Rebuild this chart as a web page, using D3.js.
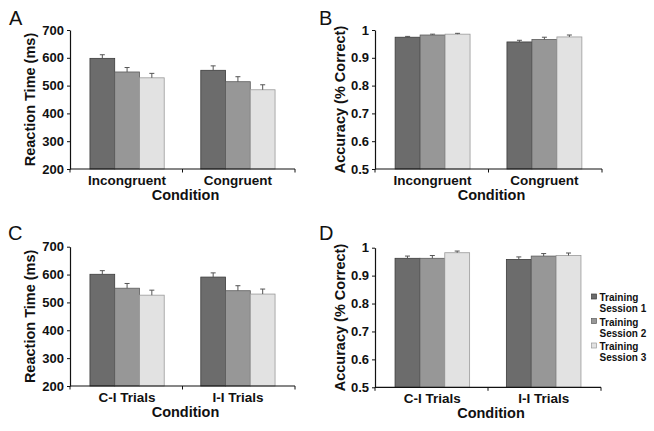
<!DOCTYPE html>
<html>
<head>
<meta charset="utf-8">
<script src="https://cdn.jsdelivr.net/npm/d3@7"></script>
<style>
  html, body { margin: 0; padding: 0; background: #fff; }
  svg { display: block; font-family: "Liberation Sans", Arial, sans-serif; }
</style>
</head>
<body>
<svg id="chart" width="654" height="431"></svg>
<script>
// ---------- data ----------
const sessions = ["Training Session 1", "Training Session 2", "Training Session 3"];
const categoriesAB = ["Incongruent", "Congruent"];
const categoriesCD = ["C-I Trials", "I-I Trials"];

// Panel A: reaction time (ms) [category][session]
const rtA = [[598, 549, 528], [555, 514, 485]];
const rtAErr = [[13, 16, 16], [16, 18, 18]];
// Panel B: accuracy
const accB = [[0.974, 0.982, 0.985], [0.957, 0.966, 0.975]];
const accBErr = [[0.003, 0.003, 0.003], [0.006, 0.008, 0.007]];
// Panel C: reaction time (ms)
const rtC = [[601, 551, 526], [591, 542, 530]];
const rtCErr = [[13, 17, 18], [15, 18, 18]];
// Panel D: accuracy
const accD = [[0.962, 0.962, 0.982], [0.958, 0.970, 0.972]];
const accDErr = [[0.008, 0.010, 0.006], [0.009, 0.009, 0.009]];

const rtTicks = [200, 300, 400, 500, 600, 700];
const accTicks = [0.5, 0.6, 0.7, 0.8, 0.9, 1];
const rtTickLabels = ["200", "300", "400", "500", "600", "700"];
const accTickLabels = ["0.5", "0.6", "0.7", "0.8", "0.9", "1"];

// ---------- styles ----------
const fills = ["#6c6c6c", "#979797", "#e2e2e2"];
const strokes = ["#3c3c3c", "#5c5c5c", "#9a9a9a"];
const textColor = "#111";

const svg = d3.select("#chart");

function drawPanel(opt) {
  const g = svg.append("g");
  const x0 = d3.scaleBand().domain(opt.categories).range([opt.left, opt.right])
    .paddingInner(0.33).paddingOuter(0.18);
  const x1 = d3.scaleBand().domain(d3.range(sessions.length)).range([0, x0.bandwidth()]);
  const y = d3.scaleLinear().domain(opt.domain).range([opt.bottom, opt.top]);

  // bars
  opt.categories.forEach((cat, ci) => {
    const grp = g.append("g").attr("transform", `translate(${x0(cat)},0)`);
    grp.selectAll("rect").data(opt.values[ci]).join("rect")
      .attr("x", (d, i) => x1(i))
      .attr("y", d => y(d))
      .attr("width", x1.bandwidth())
      .attr("height", d => y(opt.domain[0]) - y(d))
      .attr("fill", (d, i) => fills[i])
      .attr("stroke", (d, i) => strokes[i])
      .attr("stroke-width", 0.8);
    // error bars (upper only)
    grp.selectAll("line.err").data(opt.values[ci]).join("line")
      .attr("class", "err")
      .attr("x1", (d, i) => x1(i) + x1.bandwidth() / 2)
      .attr("x2", (d, i) => x1(i) + x1.bandwidth() / 2)
      .attr("y1", d => y(d))
      .attr("y2", (d, i) => y(d + opt.errors[ci][i]))
      .attr("stroke", "#555").attr("stroke-width", 1);
    grp.selectAll("line.cap").data(opt.values[ci]).join("line")
      .attr("class", "cap")
      .attr("x1", (d, i) => x1(i) + x1.bandwidth() / 2 - 2.5)
      .attr("x2", (d, i) => x1(i) + x1.bandwidth() / 2 + 2.5)
      .attr("y1", (d, i) => y(d + opt.errors[ci][i]))
      .attr("y2", (d, i) => y(d + opt.errors[ci][i]))
      .attr("stroke", "#555").attr("stroke-width", 1);
  });

  // y axis
  const yAxis = d3.axisLeft(y).tickValues(opt.ticks)
    .tickFormat((d, i) => opt.tickLabels[i]).tickSizeInner(3).tickSizeOuter(0).tickPadding(3);
  const ya = g.append("g").attr("transform", `translate(${opt.left},0)`).call(yAxis);
  ya.select(".domain").attr("stroke", "#111").attr("stroke-width", 1.2);
  ya.selectAll(".tick line").attr("stroke", "#111");
  ya.selectAll(".tick text").attr("fill", textColor)
    .style("font-size", "13px").style("font-weight", "bold")
    .style("font-family", '"Liberation Sans", Arial, sans-serif');

  // x axis: baseline plus boundary ticks
  const step = x0.step();
  const boundaries = [opt.left, (x0(opt.categories[0]) + x0.bandwidth() + x0(opt.categories[1])) / 2, opt.right];
  g.append("line").attr("x1", opt.left).attr("x2", opt.right)
    .attr("y1", opt.bottom).attr("y2", opt.bottom)
    .attr("stroke", "#111").attr("stroke-width", 1.2);
  g.selectAll("line.xt").data(boundaries).join("line").attr("class", "xt")
    .attr("x1", d => d).attr("x2", d => d)
    .attr("y1", opt.bottom).attr("y2", opt.bottom + 3.5)
    .attr("stroke", "#111");

  // category labels
  g.selectAll("text.cat").data(opt.categories).join("text").attr("class", "cat")
    .attr("x", d => x0(d) + x0.bandwidth() / 2)
    .attr("y", opt.bottom + 16)
    .attr("text-anchor", "middle")
    .attr("fill", textColor)
    .style("font-size", "13.5px").style("font-weight", "bold")
    .text(d => d);

  // x title
  g.append("text")
    .attr("x", (opt.left + opt.right) / 2 + 3)
    .attr("y", opt.bottom + 30.5)
    .attr("text-anchor", "middle")
    .attr("fill", textColor)
    .style("font-size", "14.5px").style("font-weight", "bold")
    .text("Condition");

  // y title
  g.append("text")
    .attr("transform", `translate(${opt.ylabelX},${(opt.top + opt.bottom) / 2}) rotate(-90)`)
    .attr("text-anchor", "middle")
    .attr("dominant-baseline", "central")
    .attr("fill", textColor)
    .style("font-size", "14.5px").style("font-weight", "bold")
    .text(opt.ylabel);

  // panel letter
  g.append("text")
    .attr("x", opt.letterX).attr("y", opt.letterY)
    .attr("fill", textColor)
    .style("font-size", "20px")
    .text(opt.letter);
}

drawPanel({ letter: "A", letterX: 9, letterY: 25, left: 70, right: 295, top: 30, bottom: 169,
  categories: categoriesAB, values: rtA, errors: rtAErr, domain: [200, 700],
  ticks: rtTicks, tickLabels: rtTickLabels, ylabel: "Reaction Time (ms)", ylabelX: 30 });
drawPanel({ letter: "B", letterX: 319, letterY: 25, left: 375, right: 602, top: 30, bottom: 169,
  categories: categoriesAB, values: accB, errors: accBErr, domain: [0.5, 1],
  ticks: accTicks, tickLabels: accTickLabels, ylabel: "Accuracy (% Correct)", ylabelX: 340 });
drawPanel({ letter: "C", letterX: 8, letterY: 240, left: 70, right: 295, top: 246.7, bottom: 386,
  categories: categoriesCD, values: rtC, errors: rtCErr, domain: [200, 700],
  ticks: rtTicks, tickLabels: rtTickLabels, ylabel: "Reaction Time (ms)", ylabelX: 30 });
drawPanel({ letter: "D", letterX: 319, letterY: 240, left: 375, right: 601, top: 247.7, bottom: 387.3,
  categories: categoriesCD, values: accD, errors: accDErr, domain: [0.5, 1],
  ticks: accTicks, tickLabels: accTickLabels, ylabel: "Accuracy (% Correct)", ylabelX: 340 });

// legend
const legend = svg.append("g");
sessions.forEach((s, i) => {
  const base = 301 + i * 24.5;
  legend.append("rect")
    .attr("x", 591.5).attr("y", base - 7).attr("width", 5).attr("height", 5)
    .attr("fill", fills[i]).attr("stroke", strokes[i]).attr("stroke-width", 0.7);
  const parts = [s.replace(/ Session.*/, ""), s.replace(/^Training /, "")];
  parts.forEach((p, j) => {
    legend.append("text")
      .attr("x", 599.5).attr("y", base + j * 11.3)
      .attr("fill", textColor)
      .style("font-size", "10px").style("font-weight", "bold")
      .text(p);
  });
});
</script>
</body>
</html>
